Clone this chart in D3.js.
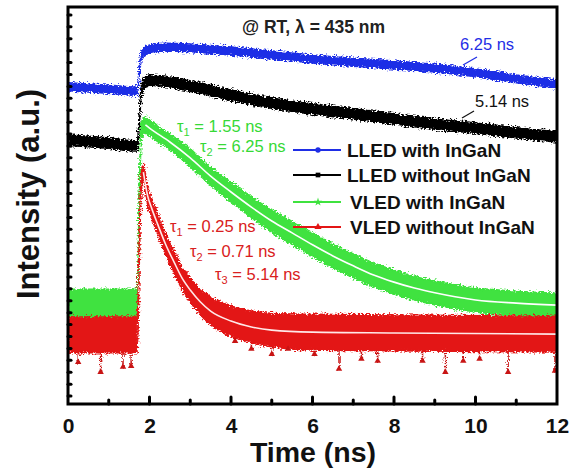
<!DOCTYPE html>
<html>
<head>
<meta charset="utf-8">
<script src="https://cdn.jsdelivr.net/npm/d3@7"></script>
<style>
  body { margin: 0; background: #fff; }
  svg { display: block; font-family: "Liberation Sans", Arial, sans-serif; }
</style>
</head>
<body>
<svg id="chart" width="576" height="470"></svg>
<script>
"use strict";

//	time axis ticks (ns)
var xTicks = [0, 2, 4, 6, 8, 10, 12];
var xMinor = [1, 3, 5, 7, 9, 11];

//	each point: [time (ns), intensity (a.u.), noise half-width (a.u.)]
var lledWith = [
	[0, 79.9, 1.0], [1.0, 79.3, 1.0], [1.7, 78.8, 1.0], [1.75, 84.1, 1.0], [1.8, 87.7, 1.0],
	[1.9, 88.9, 1.0], [2.1, 89.7, 1.0], [2.4, 89.9, 1.0], [3, 89.7, 1.0], [4, 88.9, 1.0],
	[5, 87.9, 1.0], [6, 86.9, 1.0], [7, 86.1, 1.0], [8, 85.4, 1.0], [9, 84.6, 1.0],
	[10, 83.4, 1.0], [11, 81.9, 1.0], [12, 80.6, 1.0]
];
var lledWithout = [
	[0, 66.5, 1.3], [1, 65.7, 1.3], [1.7, 65.0, 1.3], [1.75, 71.5, 1.3], [1.8, 79.1, 1.3],
	[1.9, 81.1, 1.3], [2.0, 81.6, 1.3], [2.5, 81.1, 1.3], [3, 80.1, 1.3], [4, 77.8, 1.3],
	[5, 75.8, 1.3], [6, 74.3, 1.3], [7, 73.1, 1.3], [8, 71.8, 1.3], [9, 70.5, 1.3],
	[10, 69.5, 1.3], [11, 68.3, 1.3], [12, 67.3, 1.3]
];
var vledWith = [
	[0, 25.4, 3.5], [1.0, 25.4, 3.5], [1.7, 25.4, 3.5], [1.75, 51.4, 2.5], [1.8, 69.0, 2.0],
	[1.9, 70.3, 2.0], [2.0, 69.5, 2.0], [2.5, 66.0, 2.0], [3.0, 62.0, 2.2], [3.5, 57.4, 2.3],
	[4.0, 53.4, 2.5], [4.5, 49.6, 2.6], [5.0, 46.1, 2.8], [5.5, 43.1, 2.9], [6.0, 40.1, 3.0],
	[6.5, 37.3, 3.0], [7.0, 34.8, 3.0], [7.5, 32.5, 3.0], [8.0, 30.7, 3.0], [8.5, 29.2, 3.0],
	[9.0, 28.0, 3.0], [9.5, 27.0, 3.0], [10, 26.2, 3.0], [11, 25.4, 3.0], [12, 24.9, 3.0]
];
var vledWithout = [
	[0, 17.4, 4.5], [1.7, 17.4, 4.5], [1.75, 38.8, 3.0], [1.8, 56.4, 2.0], [1.85, 58.4, 2.0],
	[1.95, 52.6, 2.2], [2.05, 49.4, 2.4], [2.2, 45.3, 2.5], [2.4, 40.1, 2.6], [2.6, 35.8, 2.7],
	[2.8, 31.7, 2.8], [3.0, 28.7, 3.0], [3.25, 25.7, 3.2], [3.5, 23.4, 3.5], [4.0, 20.9, 3.8],
	[4.5, 19.4, 4.0], [5.0, 18.6, 4.2], [6.0, 18.1, 4.5], [8.0, 17.9, 4.5], [12, 17.6, 4.5]
];

//	downward noise spikes of the red trace: [time, intensity at tip]
var vledWithoutSpikes = [
	[0.25, 10.3], [0.8, 7.8], [1.35, 9.1], [1.55, 9.3], [4.1, 15.6], [4.5, 13.6],
	[5.0, 12.3], [5.4, 13.6], [6.05, 12.3], [6.65, 8.6], [7.2, 11.1], [7.6, 10.6],
	[8.7, 10.6], [9.26, 7.8], [9.7, 10.6], [10.1, 11.1], [10.8, 7.8], [11.95, 8.1]
];

var legendNames = ["LLED with InGaN", "LLED without InGaN", "VLED with InGaN", "VLED without InGaN"];

var BLUE = "#1f2ee6", BLACK = "#000", GREEN = "#3fe23f", RED = "#e31515";

var svg = d3.select("#chart");
var x = d3.scaleLinear().domain([0, 12]).range([68, 557]);
var y = d3.scaleLinear().domain([0, 100]).range([404, 7]);

//
//	rough edge filter for the noisy traces
//
var defs = svg.append("defs");
var flt = defs.append("filter").attr("id", "rough")
	.attr("filterUnits", "userSpaceOnUse")
	.attr("x", 0).attr("y", 0).attr("width", 576).attr("height", 470);
flt.append("feTurbulence").attr("type", "fractalNoise")
	.attr("baseFrequency", "0.45 0.7").attr("numOctaves", 2).attr("seed", 4).attr("result", "n");
flt.append("feDisplacementMap").attr("in", "SourceGraphic").attr("in2", "n")
	.attr("scale", 7).attr("xChannelSelector", "R").attr("yChannelSelector", "G");

defs.append("clipPath").attr("id", "plot")
	.append("rect").attr("x", 68).attr("y", 7).attr("width", 489).attr("height", 397);

var band = d3.area()
	.x(function(d){ return x(d[0]); })
	.y0(function(d){ return y(d[1] - d[2]); })
	.y1(function(d){ return y(d[1] + d[2]); })
	.curve(d3.curveMonotoneX);

var fit = d3.line()
	.x(function(d){ return x(d[0]); })
	.y(function(d){ return y(d[1]); })
	.curve(d3.curveMonotoneX);

var plot = svg.append("g").attr("clip-path", "url(#plot)");
var traces = plot.append("g").attr("filter", "url(#rough)");

function drawTrace(data, color){
	traces.append("path").datum(data)
		.attr("d", band)
		.attr("fill", color)
		.attr("stroke", color)
		.attr("stroke-width", 1.5);
}

drawTrace(lledWith, BLUE);
drawTrace(lledWithout, BLACK);
drawTrace(vledWith, GREEN);

//	red spikes go under the red band
vledWithoutSpikes.forEach(function(s){
	traces.append("line")
		.attr("x1", x(s[0])).attr("x2", x(s[0]))
		.attr("y1", y(s[1])).attr("y2", y(s[1] + 7))
		.attr("stroke", "#c81414").attr("stroke-width", 1.5);
});
drawTrace(vledWithout, RED);

plot.selectAll(".spikeTip").data(vledWithoutSpikes).enter().append("path")
	.attr("class", "spikeTip")
	.attr("d", d3.symbol().type(d3.symbolTriangle).size(18))
	.attr("transform", function(d){ return "translate(" + x(d[0]) + "," + (y(d[1]) - 1) + ")"; })
	.attr("fill", "#c81414");

//	white fit lines through the decays
plot.append("path").datum(vledWith.filter(function(d){ return d[0] >= 1.9; }))
	.attr("d", fit).attr("fill", "none").attr("stroke", "#fff").attr("stroke-width", 1.6);
plot.append("path").datum(vledWithout.filter(function(d){ return d[0] >= 1.85; }))
	.attr("d", fit).attr("fill", "none").attr("stroke", "#ffe8e8").attr("stroke-width", 1.6);

//
//	frame and ticks
//
var axisG = svg.append("g");
axisG.append("rect").attr("x", 68).attr("y", 7).attr("width", 489).attr("height", 397)
	.attr("fill", "none").attr("stroke", "#000").attr("stroke-width", 3);

var xAxis = d3.axisBottom(x).tickValues(xTicks).tickSize(0).tickPadding(14)
	.tickFormat(d3.format("d"));
var xg = axisG.append("g").attr("transform", "translate(0,404)").call(xAxis);
xg.select(".domain").remove();
xg.selectAll("text").attr("font-size", 21).attr("font-weight", "bold").attr("fill", "#111")
	.attr("font-family", "Liberation Sans, Arial, sans-serif");

axisG.selectAll(".xmaj").data(xTicks.slice(1, -1)).enter().append("line")
	.attr("x1", function(d){ return x(d); }).attr("x2", function(d){ return x(d); })
	.attr("y1", 404).attr("y2", 397)
	.attr("stroke", "#000").attr("stroke-width", 3).attr("stroke-linecap", "round");
axisG.selectAll(".xmin").data(xMinor).enter().append("line")
	.attr("x1", function(d){ return x(d); }).attr("x2", function(d){ return x(d); })
	.attr("y1", 404).attr("y2", 400)
	.attr("stroke", "#000").attr("stroke-width", 3).attr("stroke-linecap", "round");

//	left axis carries small dot ticks, no labels
axisG.selectAll(".ytk").data(d3.range(2, 100, 3)).enter().append("line")
	.attr("x1", 68).attr("x2", 71)
	.attr("y1", function(d){ return y(d); }).attr("y2", function(d){ return y(d); })
	.attr("stroke", "#000").attr("stroke-width", 3).attr("stroke-linecap", "round");

//
//	axis titles
//
svg.append("text").attr("x", 313).attr("y", 462).attr("text-anchor", "middle")
	.attr("font-size", 28.5).attr("font-weight", "bold").attr("fill", "#111").text("Time (ns)");
svg.append("text").attr("transform", "translate(39,194) rotate(-90)").attr("text-anchor", "middle")
	.attr("font-size", 31).attr("font-weight", "bold").attr("fill", "#111").text("Intensity (a.u.)");

svg.append("text").attr("x", 242).attr("y", 33)
	.attr("font-size", 17.5).attr("font-weight", "bold").attr("fill", "#222").text("@ RT, \u03bb = 435 nm");

//
//	annotations
//
function note(xp, yp, color, parts){
	var t = svg.append("text").attr("x", xp).attr("y", yp).attr("font-size", 16.5).attr("fill", color);
	parts.forEach(function(p){
		var s = t.append("tspan").text(p[0]);
		if(p[1] == "sub"){ s.attr("font-size", 11).attr("dy", 4); }
		if(p[1] == "up"){ s.attr("dy", -4); }
	});
}
note(460, 50, BLUE, [["6.25 ns"]]);
note(475, 107, "#111", [["5.14 ns"]]);
svg.append("line").attr("x1", 463).attr("y1", 65).attr("x2", 477).attr("y2", 57)
	.attr("stroke", BLUE).attr("stroke-width", 1.2);
svg.append("line").attr("x1", 462).attr("y1", 118).attr("x2", 474).attr("y2", 111)
	.attr("stroke", "#111").attr("stroke-width", 1.2);

note(177, 132, "#36d936", [["\u03c4"], ["1", "sub"], [" = 1.55 ns", "up"]]);
note(200, 152, "#36d936", [["\u03c4"], ["2", "sub"], [" = 6.25 ns", "up"]]);
note(170, 232, "#d92020", [["\u03c4"], ["1", "sub"], [" = 0.25 ns", "up"]]);
note(190, 257, "#d92020", [["\u03c4"], ["2", "sub"], [" = 0.71 ns", "up"]]);
note(215, 280, "#d92020", [["\u03c4"], ["3", "sub"], [" = 5.14 ns", "up"]]);

//
//	legend
//
var legendColors = [BLUE, BLACK, GREEN, RED];
var legendSymbols = [d3.symbolCircle, d3.symbolSquare, d3.symbolStar, d3.symbolTriangle];
var legendY = [150, 175, 202, 227];
var legendTextX = [347, 347, 350, 350];
var lg = svg.append("g");
legendNames.forEach(function(name, i){
	lg.append("line").attr("x1", 293).attr("x2", 341)
		.attr("y1", legendY[i]).attr("y2", legendY[i])
		.attr("stroke", legendColors[i]).attr("stroke-width", 2);
	lg.append("path").attr("d", d3.symbol().type(legendSymbols[i]).size(22))
		.attr("transform", "translate(318," + legendY[i] + ")").attr("fill", legendColors[i]);
	lg.append("text").attr("x", legendTextX[i]).attr("y", legendY[i] + 7)
		.attr("font-size", 19).attr("font-weight", "bold").attr("fill", "#111").text(name);
});
</script>
</body>
</html>
